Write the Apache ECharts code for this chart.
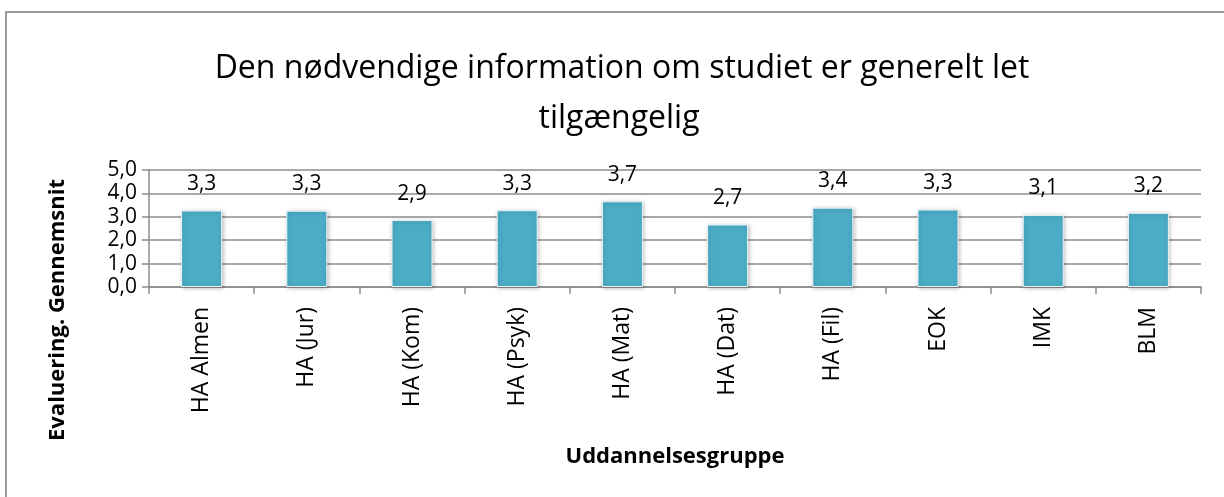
<!DOCTYPE html>
<html><head><meta charset="utf-8">
<script src="https://cdn.jsdelivr.net/npm/echarts@6/dist/echarts.min.js"></script>
<style>html,body{margin:0;padding:0;background:#fff}#c{width:1224px;height:497px}</style>
</head><body><div id="c"></div>
<script>
const categories = ['HA Almen','HA (Jur)','HA (Kom)','HA (Psyk)','HA (Mat)','HA (Dat)','HA (Fil)','EOK','IMK','BLM'];
const values = [3.27, 3.26, 2.86, 3.28, 3.66, 2.67, 3.39, 3.31, 3.08, 3.17];
const yTicks = [0, 1, 2, 3, 4, 5];
const titleLines = ['Den nødvendige information om studiet er generelt let', 'tilgængelig'];
const yTitle = 'Evaluering. Gennemsnit';
const xTitle = 'Uddannelsesgruppe';

const font = '"Open Sans", "Liberation Sans", Arial, sans-serif';
const chart = echarts.init(document.getElementById('c'), null, {renderer: 'canvas'});
chart.setOption({
  animation: false,
  backgroundColor: '#fff',
  grid: {left: 149, right: 23, top: 170, bottom: 210, containLabel: false},
  graphic: [
    {type: 'rect', shape: {x: 6, y: 12, width: 1400, height: 700}, style: {fill: 'none', stroke: '#9a9a9a', lineWidth: 2}, silent: true},
    {type: 'text', x: 622, y: 69, style: {text: titleLines[0], font: '32px ' + font, fill: '#000', align: 'center', verticalAlign: 'middle'}},
    {type: 'text', x: 619, y: 119, style: {text: titleLines[1], font: '32px ' + font, fill: '#000', align: 'center', verticalAlign: 'middle'}},
    {type: 'text', x: 58, y: 310, rotation: Math.PI / 2, style: {text: yTitle, font: 'bold 22px ' + font, fill: '#000', align: 'center', verticalAlign: 'middle'}},
    {type: 'text', x: 675, y: 457, style: {text: xTitle, font: 'bold 22px ' + font, fill: '#000', align: 'center', verticalAlign: 'middle'}}
  ],
  xAxis: {
    type: 'category', data: categories,
    axisLine: {lineStyle: {color: '#8c8c8c', width: 1.5}},
    axisTick: {show: true, interval: 0, length: 7, lineStyle: {color: '#8c8c8c', width: 1.5}},
    axisLabel: {interval: 0, rotate: 90, margin: 20, fontSize: 23, color: '#000', fontFamily: font},
    splitLine: {show: false}
  },
  yAxis: {
    type: 'value', min: yTicks[0], max: yTicks[yTicks.length - 1], interval: 1,
    axisLine: {show: true, lineStyle: {color: '#8c8c8c', width: 1.5}},
    axisTick: {show: true, length: 7, lineStyle: {color: '#8c8c8c', width: 1.5}},
    axisLabel: {fontSize: 21, color: '#000', fontFamily: font, margin: 12,
      formatter: v => v.toFixed(1).replace('.', ',')},
    splitLine: {show: true, lineStyle: {color: '#8c8c8c', width: 1.5}}
  },
  series: [{
    type: 'bar', data: values, barWidth: 41,
    itemStyle: {color: '#4BACC6', borderColor: '#e8f4f8', borderWidth: 1,
      shadowColor: 'rgba(0,0,0,0.25)', shadowBlur: 4, shadowOffsetX: 1, shadowOffsetY: 1},
    label: {show: true, position: 'top', distance: 16, fontSize: 21, color: '#000', fontFamily: font,
      formatter: p => p.value.toFixed(1).replace('.', ',')}
  }]
});
</script></body></html>
